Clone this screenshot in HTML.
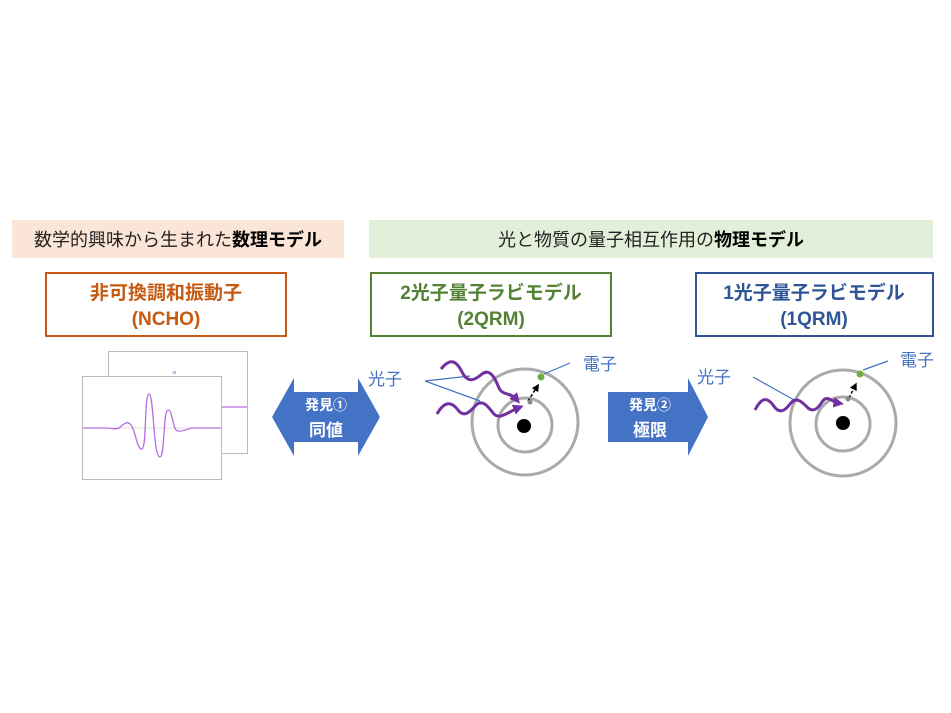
<!DOCTYPE html>
<html><head><meta charset="utf-8"><style>
html,body{margin:0;padding:0;background:#fff;width:951px;height:713px;overflow:hidden}
svg{display:block;font-family:"Liberation Sans","Noto Sans CJK JP",sans-serif}
</style></head><body>
<svg width="951" height="713" viewBox="0 0 951 713">
<defs>
<marker id="ph" markerWidth="3.5" markerHeight="3.5" refX="1.5" refY="1.75" orient="auto" markerUnits="strokeWidth"><path d="M0,0 L3.5,1.75 L0,3.5 z" fill="#7030a0"/></marker>
<marker id="bk" markerWidth="5" markerHeight="5" refX="2.5" refY="2.5" orient="auto" markerUnits="strokeWidth"><path d="M0,0 L5,2.5 L0,5 z" fill="#000"/></marker>
</defs>
<rect x="12" y="220" width="332" height="38" fill="#fbe5d6"/>
<text x="178" y="246" font-size="18" text-anchor="middle" fill="#222">数学的興味から生まれた<tspan font-weight="bold" fill="#000">数理モデル</tspan></text>
<rect x="369" y="220" width="564" height="38" fill="#e2f0d9"/>
<text x="651" y="246" font-size="18" text-anchor="middle" fill="#222">光と物質の量子相互作用の<tspan font-weight="bold" fill="#000">物理モデル</tspan></text>

<rect x="46" y="273" width="240" height="63" fill="#fff" stroke="#c55a11" stroke-width="2"/>
<text x="166" y="299" font-size="19" font-weight="bold" text-anchor="middle" fill="#c55a11">非可換調和振動子</text>
<text x="166" y="325" font-size="19" font-weight="bold" text-anchor="middle" fill="#c55a11">(NCHO)</text>
<rect x="371" y="273" width="240" height="63" fill="#fff" stroke="#548235" stroke-width="2"/>
<text x="491" y="299" font-size="19" font-weight="bold" text-anchor="middle" fill="#548235">2光子量子ラビモデル</text>
<text x="491" y="325" font-size="19" font-weight="bold" text-anchor="middle" fill="#548235">(2QRM)</text>
<rect x="696" y="273" width="237" height="63" fill="#fff" stroke="#2f5597" stroke-width="2"/>
<text x="814" y="299" font-size="19" font-weight="bold" text-anchor="middle" fill="#2f5597">1光子量子ラビモデル</text>
<text x="814" y="325" font-size="19" font-weight="bold" text-anchor="middle" fill="#2f5597">(1QRM)</text>

<!-- graphs -->
<rect x="108.5" y="351.5" width="139" height="102" fill="#fff" stroke="#bbb"/>
<line x1="222" y1="407" x2="247" y2="407" stroke="#b66ee0" stroke-width="1.2"/>
<path d="M173,374 q1.5,-5 3,0" fill="none" stroke="#b66ee0"/>
<rect x="82.5" y="376.5" width="139" height="103" fill="#fff" stroke="#bbb"/>
<line x1="83" y1="428" x2="221" y2="428" stroke="#ddd"/>
<path d="M83,428 L105,428 C112,428 115,430 119,428 C124,424 127,420 131,425 C136,432 137,450 142,449 C147,447 144,394 149,394 C154,394 153,457 160,457 C165,457 163,410 168,410 C173,410 172,430 178,431 C183,432 188,428 194,428 L221,428" fill="none" stroke="#b66ee0" stroke-width="1.3"/>

<!-- double arrow -->
<path d="M272,417 L294,378 L294,392 L358,392 L358,378 L380,417 L358,456 L358,442 L294,442 L294,456 Z" fill="#4472c4"/>
<text x="326" y="410" font-size="14" font-weight="bold" fill="#fff" text-anchor="middle">発見①</text>
<text x="326" y="436" font-size="17" font-weight="bold" fill="#fff" text-anchor="middle">同値</text>
<!-- right arrow -->
<path d="M608,392 L688,392 L688,378 L708,417 L688,456 L688,442 L608,442 Z" fill="#4472c4"/>
<text x="650" y="410" font-size="14" font-weight="bold" fill="#fff" text-anchor="middle">発見②</text>
<text x="650" y="436" font-size="17" font-weight="bold" fill="#fff" text-anchor="middle">極限</text>

<!-- atom 1 -->
<circle cx="525" cy="422" r="53" fill="none" stroke="#aaa" stroke-width="3"/>
<circle cx="525" cy="425" r="27" fill="none" stroke="#aaa" stroke-width="3"/>
<circle cx="524" cy="426" r="7" fill="#000"/>
<line x1="528" y1="401" x2="537" y2="387" stroke="#000" stroke-width="1.5" stroke-dasharray="3,2" marker-end="url(#bk)"/>
<circle cx="530" cy="402" r="2.5" fill="#888"/>
<circle cx="541" cy="377" r="3.5" fill="#70ad47"/>
<line x1="544" y1="374" x2="570" y2="363" stroke="#4472c4" stroke-width="1.2"/>
<text x="583" y="370" font-size="17" fill="#4472c4">電子</text>
<text x="368" y="385" font-size="17" fill="#4472c4">光子</text>
<line x1="425" y1="381" x2="470" y2="376" stroke="#4472c4" stroke-width="1.2"/>
<line x1="425" y1="381" x2="480" y2="401" stroke="#4472c4" stroke-width="1.2"/>
<path d="M441,369 C450,358 456,360 462,372 C468,384 475,380 482,374 C490,368 495,378 499,388 C503,396 510,392 516,399" fill="none" stroke="#7030a0" stroke-width="3" marker-end="url(#ph)"/>
<path d="M437,414 C445,400 452,402 458,410 C464,418 470,412 476,405 C484,398 490,410 494,414 C500,420 508,412 518,408" fill="none" stroke="#7030a0" stroke-width="3" marker-end="url(#ph)"/>

<!-- atom 2 -->
<circle cx="843" cy="423" r="53" fill="none" stroke="#aaa" stroke-width="3"/>
<circle cx="843" cy="424" r="27" fill="none" stroke="#aaa" stroke-width="3"/>
<circle cx="843" cy="423" r="7" fill="#000"/>
<line x1="849" y1="398" x2="855" y2="386" stroke="#000" stroke-width="1.5" stroke-dasharray="3,2" marker-end="url(#bk)"/>
<circle cx="848" cy="399" r="2.5" fill="#888"/>
<circle cx="860" cy="374" r="3.5" fill="#70ad47"/>
<line x1="863" y1="370" x2="888" y2="361" stroke="#4472c4" stroke-width="1.2"/>
<text x="900" y="366" font-size="17" fill="#4472c4">電子</text>
<text x="697" y="383" font-size="17" fill="#4472c4">光子</text>
<line x1="753" y1="377" x2="796" y2="401" stroke="#4472c4" stroke-width="1.2"/>
<path d="M755,410 C762,396 768,398 773,405 C779,414 784,412 790,404 C796,396 802,402 806,406 C812,413 817,410 822,402 C827,394 832,402 838,403" fill="none" stroke="#7030a0" stroke-width="3" marker-end="url(#ph)"/>
</svg>
</body></html>
